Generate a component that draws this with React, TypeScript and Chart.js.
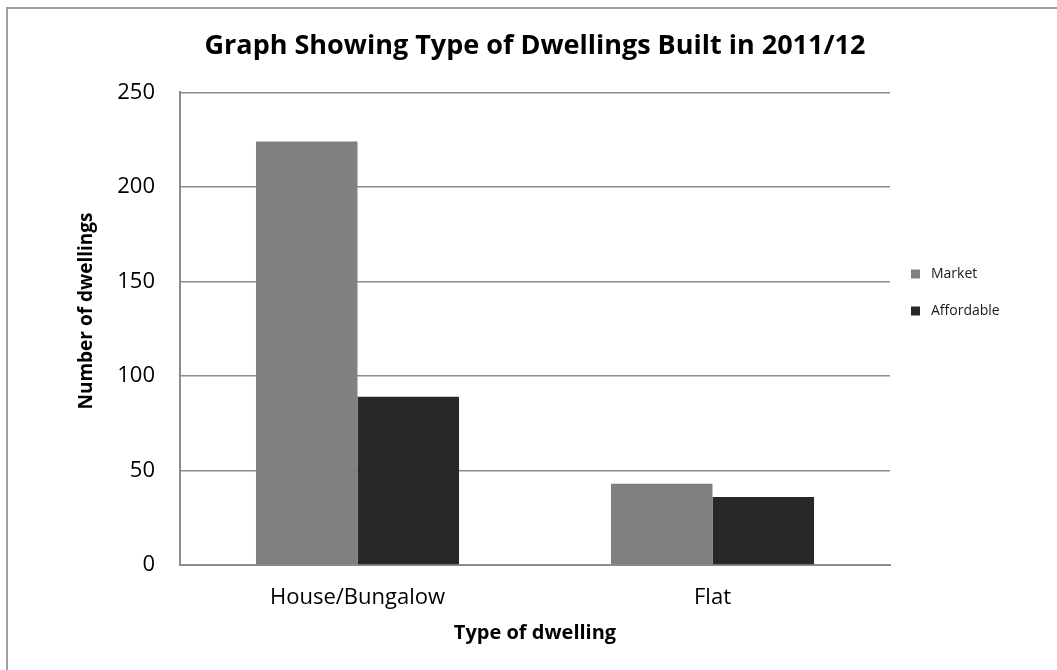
import React, { useEffect, useRef } from "react";
import { Chart, registerables } from "chart.js";

Chart.register(...registerables);

const categories = ["House/Bungalow", "Flat"];
const seriesNames = ["Market", "Affordable"];
const marketValues = [224, 43];
const affordableValues = [89, 36];
const yTicks = [0, 50, 100, 150, 200, 250];
const yAxisTitle = "Number of dwellings";

const FONT = "'Open Sans', 'Noto Sans', sans-serif";
const GRID = "#8c8c8c";

// Legend to the right of the plot and the rotated y-axis title
const sideDecor = {
  id: "sideDecor",
  afterDraw(chart: any) {
    const ctx = chart.ctx;
    const x0 = chart.chartArea.right + 21;
    const y0 = 274;
    const gap = 37;
    ctx.save();
    ctx.font = `14px ${FONT}`;
    ctx.textBaseline = "middle";
    ctx.textAlign = "left";
    chart.data.datasets.forEach((ds: any, i: number) => {
      const y = y0 + i * gap;
      ctx.fillStyle = ds.backgroundColor;
      ctx.fillRect(x0, y - 4.5, 9, 9);
      ctx.fillStyle = "#1a1a1a";
      ctx.fillText(ds.label, x0 + 20, y);
    });
    ctx.restore();

    ctx.save();
    ctx.translate(87, 311);
    ctx.rotate(-Math.PI / 2);
    ctx.font = `bold 19px ${FONT}`;
    ctx.fillStyle = "#000";
    ctx.textAlign = "center";
    ctx.textBaseline = "middle";
    ctx.fillText(yAxisTitle, 0, 0);
    ctx.restore();
  },
};

export default function App() {
  const ref = useRef<HTMLCanvasElement | null>(null);

  useEffect(() => {
    if (!ref.current) return;
    const chart = new Chart(ref.current, {
      type: "bar",
      data: {
        labels: categories,
        datasets: [
          {
            label: seriesNames[0],
            data: marketValues,
            backgroundColor: "#808080",
            categoryPercentage: 0.572,
            barPercentage: 1,
          },
          {
            label: seriesNames[1],
            data: affordableValues,
            backgroundColor: "#282828",
            categoryPercentage: 0.572,
            barPercentage: 1,
          },
        ],
      },
      options: {
        responsive: false,
        animation: false,
        layout: { padding: { left: 0, right: 167, top: 0, bottom: 0 } },
        plugins: {
          legend: { display: false },
          tooltip: { enabled: false },
          title: {
            display: true,
            text: "Graph Showing Type of Dwellings Built in 2011/12",
            fullSize: false,
            color: "#000",
            font: { family: FONT, size: 27, weight: "bold" },
            padding: { top: 30, bottom: 30 },
          },
        },
        scales: {
          x: {
            grid: { display: false, drawTicks: false },
            border: { display: true, color: GRID, width: 2 },
            ticks: {
              color: "#000",
              font: { family: FONT, size: 22 },
              padding: 20,
            },
            title: {
              display: true,
              text: "Type of dwelling",
              color: "#000",
              font: { family: FONT, size: 20, weight: "bold" },
              padding: { top: 0, bottom: 25 },
            },
            afterFit(scale: any) {
              scale.height = 670 - 565;
            },
          },
          y: {
            min: 0,
            max: 250,
            afterBuildTicks(scale: any) {
              scale.ticks = yTicks.map((v) => ({ value: v }));
            },
            grid: { color: GRID, lineWidth: 1.5, drawTicks: false },
            border: { display: true, color: GRID, width: 2 },
            ticks: {
              color: "#000",
              font: { family: FONT, size: 22 },
              padding: 25,
            },
            afterFit(scale: any) {
              scale.width = 180;
            },
          },
        },
      },
      plugins: [sideDecor],
    });
    return () => chart.destroy();
  }, []);

  return (
    <div style={{ position: "fixed", left: 0, top: 0, width: 1057, height: 670, background: "#fff" }}>
      <div
        style={{
          position: "absolute",
          left: 6,
          top: 7,
          width: 1100,
          height: 700,
          borderTop: "2px solid #a0a0a0",
          borderLeft: "2px solid #a0a0a0",
        }}
      />
      <canvas ref={ref} width={1057} height={670} style={{ position: "absolute", left: 0, top: 0 }} />
    </div>
  );
}
